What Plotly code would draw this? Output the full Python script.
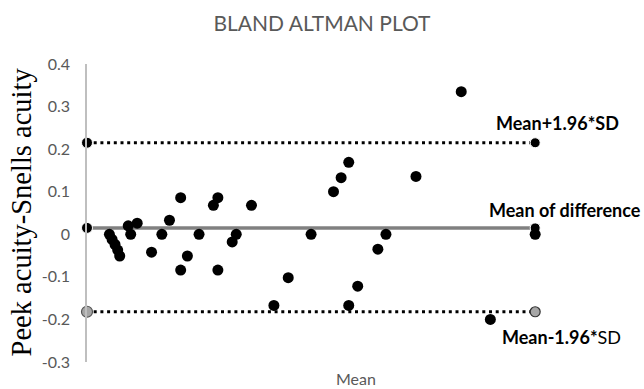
import plotly.graph_objects as go

# Data (x = mean of methods, y = difference)
mean_vals = [0.050, 0.056, 0.0625, 0.0685, 0.073, 0.092, 0.0975, 0.112, 0.144, 0.167,
             0.184, 0.209, 0.209, 0.224, 0.250, 0.282, 0.292, 0.292, 0.324, 0.333,
             0.367, 0.417, 0.449, 0.500, 0.550, 0.567, 0.584, 0.584, 0.604, 0.649,
             0.667, 0.734, 0.835, 0.900, 1.000]
diff_vals = [0.000, -0.012, -0.024, -0.037, -0.051, 0.020, 0.000, 0.026, -0.042, 0.000,
             0.033, 0.086, -0.084, -0.051, 0.000, 0.068, 0.086, -0.084, -0.018, 0.000,
             0.068, -0.167, -0.102, 0.000, 0.100, 0.133, 0.169, -0.167, -0.122, -0.035,
             0.000, 0.136, 0.335, -0.200, 0.000]

line_x = [0.0, 1.0]
mean_diff = 0.015
upper_loa = 0.215
lower_loa = -0.182

y_ticks = [0.4, 0.3, 0.2, 0.1, 0.0, -0.1, -0.2, -0.3]
y_ticktext = ["0.4", "0.3", "0.2", "0.1", "0", "-0.1", "-0.2", "-0.3"]

fig = go.Figure()

dot_line = dict(color="black", width=3, dash="3px,3.7px")

# Limit and mean lines
fig.add_trace(go.Scatter(x=line_x, y=[upper_loa, upper_loa], mode="lines",
                         line=dot_line, showlegend=False, hoverinfo="skip"))
fig.add_trace(go.Scatter(x=line_x, y=[lower_loa, lower_loa], mode="lines",
                         line=dot_line, showlegend=False, hoverinfo="skip"))
fig.add_trace(go.Scatter(x=line_x, y=[mean_diff, mean_diff], mode="lines",
                         line=dict(color="#808080", width=3.5),
                         showlegend=False, hoverinfo="skip"))

# Line end markers
fig.add_trace(go.Scatter(x=line_x + line_x, y=[upper_loa, upper_loa, mean_diff, mean_diff],
                         mode="markers",
                         marker=dict(color="black", size=[11, 10, 11, 10], opacity=1),
                         cliponaxis=False, showlegend=False, hoverinfo="skip"))
fig.add_trace(go.Scatter(x=line_x, y=[lower_loa, lower_loa], mode="markers",
                         marker=dict(color="#a6a6a6", size=[11, 10], opacity=1,
                                     line=dict(color=["#555555", "#333333"], width=1.2)),
                         cliponaxis=False, showlegend=False, hoverinfo="skip"))

# Data points
fig.add_trace(go.Scatter(
    x=mean_vals, y=diff_vals, mode="markers",
    marker=dict(color="black", size=11, opacity=1),
    cliponaxis=False, showlegend=False))

ann_font = dict(family="Lato", size=18, color="black")
annotations = [
    dict(x=1.05, y=0.261, xref="x", yref="y", text="<b>Mean+1.96*SD</b>",
         showarrow=False, font=ann_font, xanchor="center", yanchor="middle"),
    dict(x=0.893, y=0.057, xref="x", yref="y", text="<b>Mean of difference</b>",
         showarrow=False, font=ann_font, xanchor="left", yanchor="middle"),
    dict(x=0.922, y=-0.242, xref="x", yref="y", text="<b>Mean-1.96*</b>SD",
         showarrow=False, font=ann_font, xanchor="left", yanchor="middle"),
    dict(x=0.6, y=-0.057, xref="x", yref="paper", text="Mean",
         showarrow=False, font=dict(family="Lato", size=16, color="#595959"),
         xanchor="center", yanchor="middle"),
    dict(x=-0.132, y=0.505, xref="paper", yref="paper", text="Peek acuity-Snells acuity",
         textangle=-90, showarrow=False,
         font=dict(family="Liberation Serif", size=28.5, color="black"),
         xanchor="center", yanchor="middle"),
]

fig.update_layout(
    width=644, height=389,
    margin=dict(l=87, r=64, t=64, b=27),
    paper_bgcolor="white", plot_bgcolor="white",
    title=dict(text="BLAND ALTMAN PLOT", x=0.5, xanchor="center", y=1 - 24 / 389,
               yanchor="middle", font=dict(family="Lato", size=21, color="#595959")),
    xaxis=dict(range=[0, 1.1], showgrid=False, zeroline=False, showline=False,
               showticklabels=False, ticks=""),
    yaxis=dict(range=[-0.3, 0.4], tickvals=y_ticks, ticktext=y_ticktext,
               showgrid=False, zeroline=False, showline=True, linecolor="#bfbfbf",
               linewidth=1.5, ticks="", ticklabelstandoff=12,
               tickfont=dict(family="Lato", size=16, color="#595959")),
    annotations=annotations,
)

fig.write_html("out.html", config={"displayModeBar": False},
               post_script="document.body.style.margin='0';document.body.style.overflow='hidden';")
